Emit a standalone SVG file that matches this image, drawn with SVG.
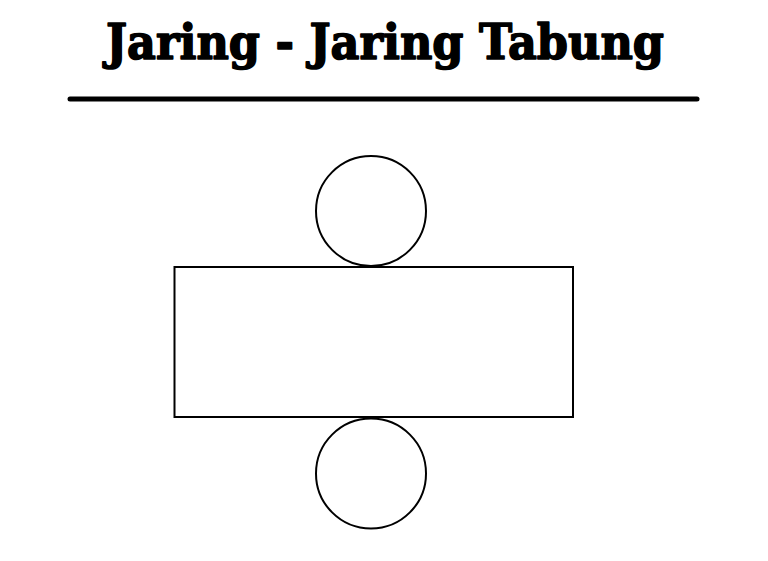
<svg xmlns="http://www.w3.org/2000/svg" width="768" height="561" viewBox="0 0 768 561">
<style>
.shape{fill:#fff;stroke:#000;stroke-width:2}
.title{font-family:"DejaVu Serif","Liberation Serif",serif;font-weight:bold;font-size:48px;fill:#000;stroke:#000;stroke-width:1.6;stroke-linejoin:round}
</style>
<rect width="768" height="561" fill="#fff"/>
<g id="title">
<text class="title" x="106" y="59" textLength="558" lengthAdjust="spacingAndGlyphs">Jaring - Jaring Tabung</text>
<line x1="70" y1="99" x2="697" y2="99" stroke="#000" stroke-width="5" stroke-linecap="round"/>
</g>
<g id="net">
<rect id="selimut" class="shape" x="174.5" y="267" width="398.5" height="150"/>
<circle id="tutup" class="shape" cx="371" cy="211" r="55"/>
<circle id="alas" class="shape" cx="371" cy="473.5" r="55"/>
</g>
</svg>
